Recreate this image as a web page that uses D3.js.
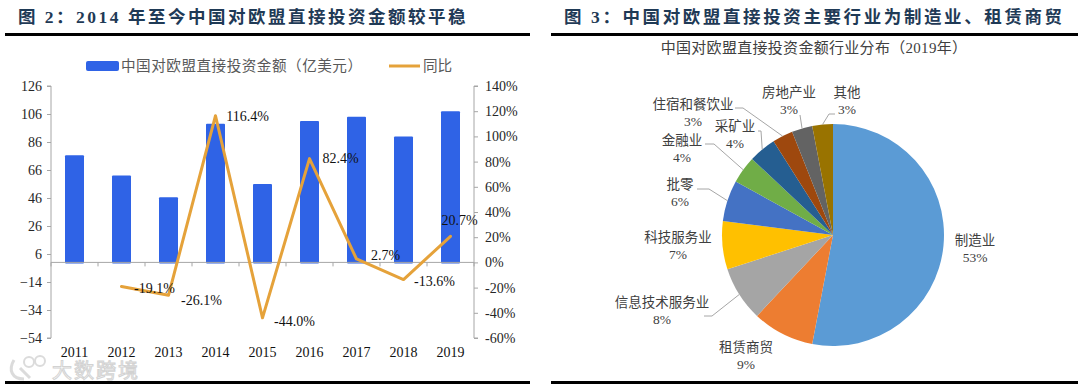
<!DOCTYPE html>
<html>
<head>
<meta charset="utf-8">
<script src="https://cdn.jsdelivr.net/npm/d3@7"></script>
<style>
html, body { margin: 0; padding: 0; background: #fff; }
svg { display: block; }
text { font-family: "Liberation Serif", "Noto Sans CJK SC", serif; }
</style>
</head>
<body>
<div id="chart"></div>
<script>
var years = ["2011", "2012", "2013", "2014", "2015", "2016", "2017", "2018", "2019"];
var amount = [76.5, 62, 46.5, 99, 56, 101, 104, 90, 108];
var yoy = [null, -19.1, -26.1, 116.4, -44.0, 82.4, 2.7, -13.6, 20.7];
var leftTicks = [-54, -34, -14, 6, 26, 46, 66, 86, 106, 126];
var rightTicks = [-60, -40, -20, 0, 20, 40, 60, 80, 100, 120, 140];

var sectors = ["制造业", "租赁商贸", "信息技术服务业", "科技服务业", "批零", "金融业", "采矿业", "住宿和餐饮业", "房地产业", "其他"];
var shares = [53, 9, 8, 7, 6, 4, 4, 3, 3, 3];
var sectorColors = ["#5b9bd5", "#ed7d31", "#a5a5a5", "#ffc000", "#4472c4", "#70ad47", "#255e91", "#9e480e", "#636363", "#997300"];

// label centres and leader elbows for the pie, placed by hand like the original
var pieLabelPos = [[975, 240], [746, 347], [662, 302], [678, 237], [680, 184], [682, 140], [735, 126], [693, 104], [789, 92], [847, 92]];
var pieLeaders = [null, null, [[704, 316], [712, 316]], null, [[697, 189], [709, 189]], [[705, 144], [714, 144]], [[758, 131], [761, 131]], [[735, 108], [743, 108]], [[800, 115], [800, 115]], [[835, 114], [829, 114]]];

var width = 1080, height = 388;
var svg = d3.select("#chart").append("svg")
    .attr("width", width)
    .attr("height", height);

function header(txt, x, rx0, rx1, spacing) {
    svg.append("text")
        .attr("x", x)
        .attr("y", 23)
        .style("font-size", "17.5px")
        .style("font-weight", "bold")
        .style("letter-spacing", spacing + "px")
        .style("fill", "#1f3a56")
        .text(txt);
    svg.append("rect").attr("x", rx0).attr("y", 33).attr("width", rx1 - rx0).attr("height", 3).attr("fill", "#000");
    svg.append("rect").attr("x", rx0).attr("y", 381).attr("width", rx1 - rx0).attr("height", 3).attr("fill", "#000");
}
header("图 2：2014 年至今中国对欧盟直接投资金额较平稳", 18, 5, 530, 2.5);
header("图 3：中国对欧盟直接投资主要行业为制造业、租赁商贸", 564, 551, 1078, 2.6);

// ---- bar + line ----
var y = d3.scaleLinear().domain([-54, 126]).range([338, 86]);
var y2 = d3.scaleLinear().domain([-60, 140]).range([338, 86]);
var band = d3.scalePoint().domain(years).range([74.5, 450.5]);

svg.append("g").selectAll("rect")
    .data(amount).enter()
    .append("rect")
    .attr("x", function(d, i){ return band(years[i]) - 9.5; })
    .attr("width", 19)
    .attr("y", function(d){ return y(d); })
    .attr("height", function(d){ return y(0) + 1 - y(d); })
    .attr("rx", 1)
    .attr("fill", "#2f63e6");

var gl = svg.append("g").attr("transform", "translate(51,0)")
    .call(d3.axisLeft(y).tickValues(leftTicks).tickSize(4).tickPadding(5).tickFormat(d3.format("d")));
var gr = svg.append("g").attr("transform", "translate(474,0)")
    .call(d3.axisRight(y2).tickValues(rightTicks).tickSize(4).tickPadding(7).tickFormat(function(d){ return d + "%"; }));
[gl, gr].forEach(function(g){
    g.selectAll("path").attr("stroke", "#a6a6a6");
    g.selectAll("line").attr("stroke", "#a6a6a6");
    g.selectAll("text").style("font-size", "14px").style("font-family", "'Liberation Serif'").style("fill", "#262626");
});
gl.select("path").attr("d", "M-4,86H0V338H-4");
gr.select("path").attr("d", "M4,86H0V338H4");

// x axis sits on the zero line, ticks between the categories
svg.append("line").attr("x1", 51).attr("x2", 474).attr("y1", y(0)).attr("y2", y(0)).attr("stroke", "#a6a6a6");
svg.append("g").selectAll("line")
    .data(d3.range(10)).enter()
    .append("line")
    .attr("x1", function(d){ return 51 + d * 47; })
    .attr("x2", function(d){ return 51 + d * 47; })
    .attr("y1", y(0))
    .attr("y2", y(0) + 4)
    .attr("stroke", "#a6a6a6");
svg.append("g").selectAll("text")
    .data(years).enter()
    .append("text")
    .attr("x", function(d){ return band(d); })
    .attr("y", 357)
    .attr("text-anchor", "middle")
    .style("font-size", "14px")
    .style("fill", "#111")
    .text(function(d){ return d; });

var line = d3.line()
    .defined(function(d){ return d != null; })
    .x(function(d, i){ return band(years[i]); })
    .y(function(d){ return y2(d); });
svg.append("path")
    .attr("d", line(yoy))
    .attr("fill", "none")
    .attr("stroke", "#e5a23a")
    .attr("stroke-width", 3)
    .attr("stroke-linejoin", "round")
    .attr("stroke-linecap", "round");

var labelOffset = [null, [33, 7], [33, 10], [32, 5], [32, 8], [31, 4], [29, 1], [31, 6], [9, -11]];
svg.append("g").selectAll("text")
    .data(yoy).enter()
    .filter(function(d){ return d != null; })
    .append("text")
    .attr("x", function(d){ var i = yoy.indexOf(d); return band(years[i]) + labelOffset[i][0]; })
    .attr("y", function(d){ var i = yoy.indexOf(d); return y2(d) + labelOffset[i][1]; })
    .attr("text-anchor", "middle")
    .style("font-size", "14px")
    .style("fill", "#111")
    .text(function(d){ return d.toFixed(1) + "%"; });

// legend
svg.append("rect").attr("x", 86).attr("y", 61).attr("width", 33).attr("height", 10).attr("rx", 2).attr("fill", "#2f63e6");
svg.append("text").attr("x", 121).attr("y", 71).style("font-size", "14.6px").style("letter-spacing", "0.5px").style("fill", "#595959").text("中国对欧盟直接投资金额（亿美元）");
svg.append("line").attr("x1", 389).attr("x2", 420).attr("y1", 66).attr("y2", 66).attr("stroke", "#e5a23a").attr("stroke-width", 3);
svg.append("text").attr("x", 423).attr("y", 71).style("font-size", "14.6px").style("fill", "#595959").text("同比");

// watermark
var wm = svg.append("g").attr("opacity", 0.75);
wm.append("path")
    .attr("d", "M14,360 C8,370 12,379 24,379 M20,368 L30,378")
    .attr("fill", "none").attr("stroke", "#d0d0d0").attr("stroke-width", 3);
wm.append("circle").attr("cx", 29).attr("cy", 362).attr("r", 5).attr("fill", "none").attr("stroke", "#d0d0d0").attr("stroke-width", 2);
wm.append("circle").attr("cx", 40).attr("cy", 361).attr("r", 5).attr("fill", "none").attr("stroke", "#d0d0d0").attr("stroke-width", 2);
wm.append("text")
    .attr("x", 52).attr("y", 378)
    .style("font-size", "20px")
    .style("letter-spacing", "2px")
    .style("fill", "#fff")
    .style("stroke", "#c4c4c4")
    .style("stroke-width", "1px")
    .text("大数跨境");

// ---- pie ----
svg.append("text")
    .attr("x", 814).attr("y", 53)
    .attr("text-anchor", "middle")
    .style("font-size", "15px")
    .style("letter-spacing", "0.3px")
    .style("fill", "#404040")
    .text("中国对欧盟直接投资金额行业分布（2019年）");

var cx = 833, cy = 235, r = 111;
var pie = d3.pie().sort(null);
var arc = d3.arc().innerRadius(0).outerRadius(r);
var arcs = pie(shares);

var gp = svg.append("g").attr("transform", "translate(" + cx + "," + cy + ")");
gp.selectAll("path")
    .data(arcs).enter()
    .append("path")
    .attr("d", arc)
    .attr("fill", function(d, i){ return sectorColors[i]; });

svg.append("g").selectAll("path")
    .data(arcs).enter()
    .filter(function(d, i){ return pieLeaders[i] != null; })
    .append("path")
    .attr("d", function(d){
        var i = arcs.indexOf(d);
        var mid = (d.startAngle + d.endAngle) / 2;
        var edge = [cx + r * Math.sin(mid), cy - r * Math.cos(mid)];
        return d3.line()(pieLeaders[i].concat([edge]));
    })
    .attr("fill", "none")
    .attr("stroke", "#a6a6a6");

var labels = svg.append("g").selectAll("g")
    .data(sectors).enter()
    .append("g")
    .attr("transform", function(d, i){ return "translate(" + pieLabelPos[i][0] + "," + pieLabelPos[i][1] + ")"; });
labels.append("text")
    .attr("y", 5)
    .attr("text-anchor", "middle")
    .style("font-size", "13.5px")
    .style("fill", "#404040")
    .text(function(d){ return d; });
labels.append("text")
    .attr("y", 22)
    .attr("text-anchor", "middle")
    .style("font-size", "13.5px")
    .style("fill", "#404040")
    .text(function(d, i){ return shares[i] + "%"; });
</script>
</body>
</html>
